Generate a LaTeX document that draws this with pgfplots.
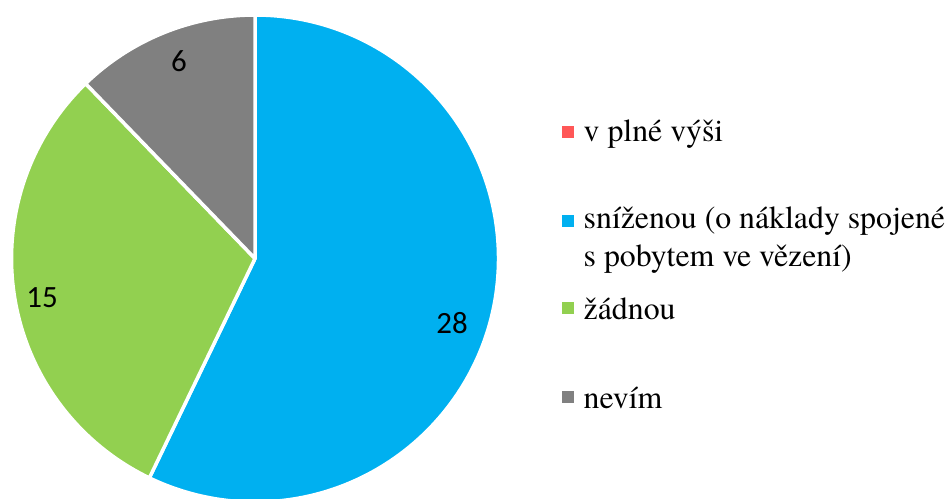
\documentclass[border=0pt]{standalone}
\usepackage{pgfplots}
\usepackage{pgfplotstable}
\pgfplotsset{compat=1.18}
\usepackage{fontspec}
\newfontfamily\serifont{texgyretermes-regular.otf}
\newfontfamily\calfont{Carlito}
\definecolor{cred}{HTML}{FF5757}
\definecolor{cblue}{HTML}{00B0F0}
\definecolor{cgreen}{HTML}{92D050}
\definecolor{cgrey}{HTML}{808080}
\pgfplotstableread{
label value
plna 0
snizenou 28
zadnou 15
nevim 6
}\piedata
\begin{document}
\begin{tikzpicture}
\pgfplotstablegetelem{0}{value}\of\piedata \edef\va{\pgfplotsretval}
\pgfplotstablegetelem{1}{value}\of\piedata \edef\vb{\pgfplotsretval}
\pgfplotstablegetelem{2}{value}\of\piedata \edef\vc{\pgfplotsretval}
\pgfplotstablegetelem{3}{value}\of\piedata \edef\vd{\pgfplotsretval}
\pgfmathsetmacro\tot{\va+\vb+\vc+\vd}
\pgfmathsetmacro\aa{90}
\pgfmathsetmacro\ab{\aa-360*\va/\tot}
\pgfmathsetmacro\ac{\ab-360*\vb/\tot}
\pgfmathsetmacro\ad{\ac-360*\vc/\tot}
\pgfmathsetmacro\ae{\ad-360*\vd/\tot}
\begin{axis}[
  scale only axis, width=9.51cm, height=4.98cm,
  xmin=0, xmax=951, ymin=0, ymax=498,
  hide axis, clip=true,
]
\def\R{2.435cm}
\fill[cblue, draw=white, line width=0.35mm, line join=round]
  (axis cs:255,239.5) -- ++(\ab:\R) arc[start angle=\ab, end angle=\ac, radius=\R] -- cycle;
\fill[cgreen, draw=white, line width=0.35mm, line join=round]
  (axis cs:255,239.5) -- ++(\ac:\R) arc[start angle=\ac, end angle=\ad, radius=\R] -- cycle;
\fill[cgrey, draw=white, line width=0.35mm, line join=round]
  (axis cs:255,239.5) -- ++(\ad:\R) arc[start angle=\ad, end angle=\ae, radius=\R] -- cycle;
% data labels
\node[anchor=base, inner sep=0pt] at (axis cs:179,427) {\calfont\fontsize{8.8}{10}\selectfont \vd};
\node[anchor=base, inner sep=0pt] at (axis cs:452,165) {\calfont\fontsize{8.8}{10}\selectfont \vb};
\node[anchor=base, inner sep=0pt] at (axis cs:42,191) {\calfont\fontsize{8.8}{10}\selectfont \vc};
% legend
\fill[cred]   (axis cs:562,360) rectangle (axis cs:574,372);
\fill[cblue]  (axis cs:562,271) rectangle (axis cs:574,283);
\fill[cgreen] (axis cs:562,184) rectangle (axis cs:574,196);
\fill[cgrey]  (axis cs:562,95)  rectangle (axis cs:574,107);
\node[anchor=base west, inner sep=0pt] at (axis cs:583,357) {\serifont\fontsize{9.05}{10.8}\selectfont v plné výši};
\node[anchor=base west, inner sep=0pt] at (axis cs:583,270) {\serifont\fontsize{9.05}{10.8}\selectfont sníženou (o náklady spojené};
\node[anchor=base west, inner sep=0pt] at (axis cs:583,232) {\serifont\fontsize{9.05}{10.8}\selectfont s pobytem ve vězení)};
\node[anchor=base west, inner sep=0pt] at (axis cs:583,179) {\serifont\fontsize{9.05}{10.8}\selectfont žádnou};
\node[anchor=base west, inner sep=0pt] at (axis cs:583,90)  {\serifont\fontsize{9.05}{10.8}\selectfont nevím};
\end{axis}
\pgfresetboundingbox
\useasboundingbox (0,0) rectangle (9.51cm,4.98cm);
\end{tikzpicture}
\end{document}
